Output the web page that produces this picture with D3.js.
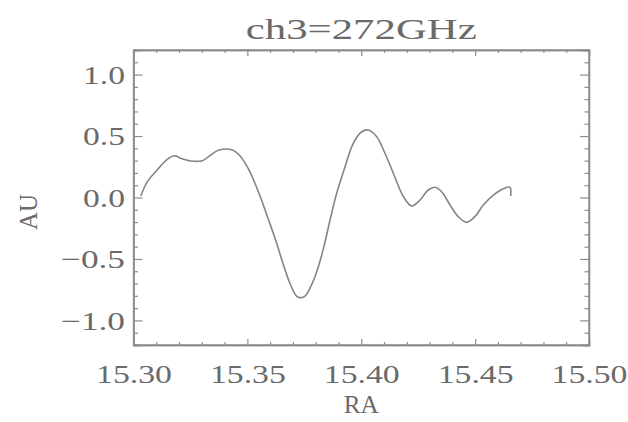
<!DOCTYPE html>
<html>
<head>
<meta charset="utf-8">
<script src="https://cdn.jsdelivr.net/npm/d3@7"></script>
<style>
  html, body { margin: 0; padding: 0; background: #fff; }
  svg { display: block; }
  text { font-family: "Liberation Serif", "DejaVu Serif", serif; fill: #6a6a6a; }
</style>
</head>
<body>
<svg id="chart" width="628" height="422"></svg>
<script>
// Profile along RA for channel 3
const titleText = "ch3=272GHz";
const xLabel = "RA";
const yLabel = "AU";

const ra = [15.3032, 15.3061, 15.3104, 15.3148, 15.3181, 15.3207, 15.3251, 15.3302,
  15.3339, 15.3375, 15.3434, 15.3471, 15.3507, 15.3551, 15.3588, 15.3624, 15.3661,
  15.3690, 15.3719, 15.3749, 15.3778, 15.3807, 15.3836, 15.3863, 15.3892, 15.3929,
  15.3965, 15.4002, 15.4031, 15.4068, 15.4104, 15.4141, 15.4185, 15.4222, 15.4258,
  15.4294, 15.4324, 15.4353, 15.4390, 15.4426, 15.4463, 15.4499, 15.4536, 15.4580,
  15.4624, 15.4653, 15.4656];
const au = [0.012, 0.129, 0.224, 0.311, 0.340, 0.319, 0.297, 0.299,
  0.346, 0.386, 0.386, 0.332, 0.224, 0.034, -0.156, -0.346, -0.563,
  -0.712, -0.807, -0.807, -0.726, -0.590, -0.400, -0.183, 0.034, 0.251,
  0.441, 0.535, 0.549, 0.495, 0.360, 0.197, 0.007, -0.069, -0.020,
  0.061, 0.083, 0.047, -0.061, -0.156, -0.202, -0.156, -0.061, 0.020,
  0.072, 0.083, 0.012];

const xTicks = [15.30, 15.35, 15.40, 15.45, 15.50];
const yTicks = [-1.0, -0.5, 0.0, 0.5, 1.0];
const xDomain = [15.30, 15.50];
const yDomain = [-1.2, 1.2];

const svg = d3.select("#chart");
const plotL = 133.5, plotR = 589, plotT = 50, plotB = 345;
const frameColor = "#8c8c8c";

const x = d3.scaleLinear().domain(xDomain).range([plotL, plotR]);
const y = d3.scaleLinear().domain(yDomain).range([plotB, plotT]);

const xMinor = d3.range(0, 21).map(i => xDomain[0] + i * 0.01).filter(v => !xTicks.some(t => Math.abs(t - v) < 1e-9));
const yMinor = d3.range(0, 25).map(i => yDomain[0] + i * 0.1).filter(v => !yTicks.some(t => Math.abs(t - v) < 1e-9));

function styleAxis(g) {
  g.selectAll("path.domain").attr("stroke", frameColor).attr("stroke-width", 1.3);
  g.selectAll(".tick line").attr("stroke", frameColor).attr("stroke-width", 1.2);
}

// Minor ticks on all four sides (inward)
svg.append("g").attr("transform", `translate(0,${plotB})`)
  .call(d3.axisBottom(x).tickValues(xMinor).tickSize(-3).tickFormat(""))
  .call(styleAxis);
svg.append("g").attr("transform", `translate(0,${plotT})`)
  .call(d3.axisTop(x).tickValues(xMinor).tickSize(-3).tickFormat(""))
  .call(styleAxis);
svg.append("g").attr("transform", `translate(${plotL},0)`)
  .call(d3.axisLeft(y).tickValues(yMinor).tickSize(-4.5).tickFormat(""))
  .call(styleAxis);
svg.append("g").attr("transform", `translate(${plotR},0)`)
  .call(d3.axisRight(y).tickValues(yMinor).tickSize(-4.5).tickFormat(""))
  .call(styleAxis);

// Major ticks with labels on bottom and left
const gx = svg.append("g").attr("transform", `translate(0,${plotB})`)
  .call(d3.axisBottom(x).tickValues(xTicks).tickSize(-6).tickFormat(d3.format(".2f")))
  .call(styleAxis);
gx.selectAll(".tick text")
  .attr("font-size", 26).attr("font-family", null).attr("fill", null)
  .attr("dy", 0).attr("y", 38)
  .attr("textLength", 76).attr("lengthAdjust", "spacingAndGlyphs");

svg.append("g").attr("transform", `translate(0,${plotT})`)
  .call(d3.axisTop(x).tickValues(xTicks).tickSize(-6).tickFormat(""))
  .call(styleAxis);

const gy = svg.append("g").attr("transform", `translate(${plotL},0)`)
  .call(d3.axisLeft(y).tickValues(yTicks).tickSize(-9).tickFormat(d3.format(".1f")))
  .call(styleAxis);
gy.selectAll(".tick text")
  .attr("font-size", 26).attr("font-family", null).attr("fill", null)
  .attr("x", -8.5).attr("dy", "0.34em")
  .each(function(d) {
    d3.select(this).attr("textLength", d < 0 ? 64 : 42).attr("lengthAdjust", "spacingAndGlyphs");
  });

svg.append("g").attr("transform", `translate(${plotR},0)`)
  .call(d3.axisRight(y).tickValues(yTicks).tickSize(-9).tickFormat(""))
  .call(styleAxis);

// Frame
svg.append("rect")
  .attr("x", plotL).attr("y", plotT)
  .attr("width", plotR - plotL).attr("height", plotB - plotT)
  .attr("fill", "none").attr("stroke", frameColor).attr("stroke-width", 1.3);

// Data line
const line = d3.line()
  .x((d, i) => x(ra[i]))
  .y((d, i) => y(au[i]))
  .curve(d3.curveCatmullRom.alpha(0.5));

svg.append("path")
  .datum(au)
  .attr("d", line)
  .attr("fill", "none")
  .attr("stroke", "#858585")
  .attr("stroke-width", 1.6)
  .attr("stroke-linejoin", "round");

// Titles
svg.append("text")
  .attr("x", (plotL + plotR) / 2).attr("y", 39)
  .attr("text-anchor", "middle")
  .attr("font-size", 29)
  .attr("textLength", 231).attr("lengthAdjust", "spacingAndGlyphs")
  .text(titleText);

svg.append("text")
  .attr("x", (plotL + plotR) / 2).attr("y", 413)
  .attr("text-anchor", "middle")
  .attr("font-size", 25)
  .attr("textLength", 35).attr("lengthAdjust", "spacingAndGlyphs")
  .text(xLabel);

svg.append("text")
  .attr("transform", "translate(37,212) rotate(-90)")
  .attr("text-anchor", "middle")
  .attr("font-size", 25)
  .attr("textLength", 36).attr("lengthAdjust", "spacingAndGlyphs")
  .text(yLabel);
</script>
</body>
</html>
